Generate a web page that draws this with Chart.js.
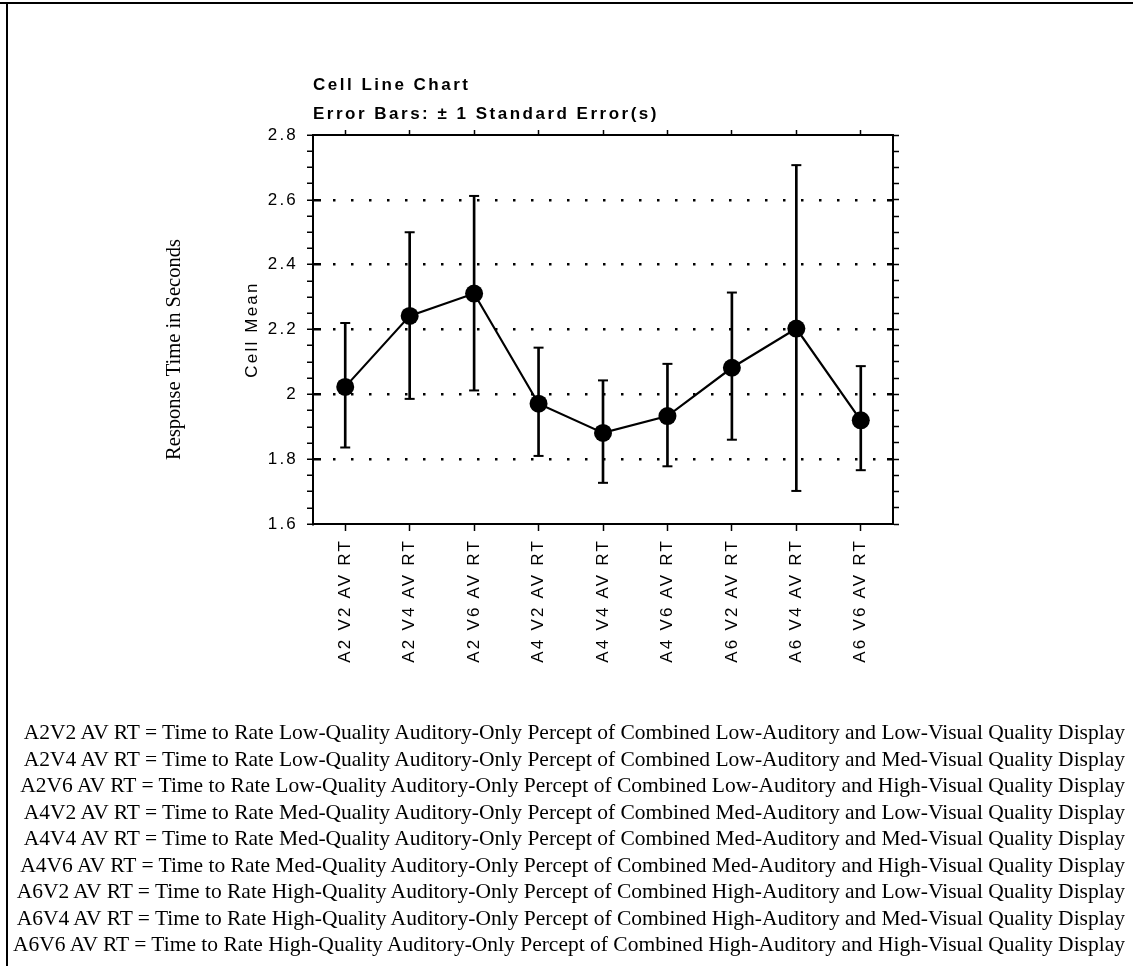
<!DOCTYPE html>
<html>
<head>
<meta charset="utf-8">
<script src="https://cdn.jsdelivr.net/npm/chart.js@4/dist/chart.umd.min.js"></script>
<style>
html,body{margin:0;padding:0;background:#fff;}
body{width:1133px;height:966px;position:relative;overflow:hidden;}
#frameTop{position:absolute;left:0;top:2px;width:1133px;height:2px;background:#000;}
#frameLeft{position:absolute;left:6px;top:2px;width:2px;height:964px;background:#000;}
#c{position:absolute;left:0;top:0;}
#notes{position:absolute;right:8px;top:719px;font-family:"Liberation Serif";font-size:21.5px;line-height:26.5px;text-align:right;color:#000;white-space:nowrap;}
</style>
</head>
<body>
<div id="frameTop"></div>
<div id="frameLeft"></div>
<canvas id="c" width="1133" height="966"></canvas>
<div id="notes"></div>
<script>
// ---- data ----
const categories = ['A2 V2 AV RT','A2 V4 AV RT','A2 V6 AV RT','A4 V2 AV RT','A4 V4 AV RT','A4 V6 AV RT','A6 V2 AV RT','A6 V4 AV RT','A6 V6 AV RT'];
const cellMeans  = [2.023, 2.242, 2.311, 1.971, 1.881, 1.933, 2.082, 2.203, 1.920];
const errorHigh  = [2.220, 2.500, 2.612, 2.144, 2.043, 2.094, 2.314, 2.707, 2.087];
const errorLow   = [1.836, 1.986, 2.012, 1.810, 1.727, 1.778, 1.860, 1.702, 1.766];
const yMin = 1.6, yMax = 2.8, yMinorStep = 0.05;
const yMajorTicks = [1.6, 1.8, 2.0, 2.2, 2.4, 2.6, 2.8];
const yTickLabels = ['1.6', '1.8', '2', '2.2', '2.4', '2.6', '2.8'];
const titleLines = ['Cell Line Chart', 'Error Bars: \u00B1 1 Standard Error(s)'];
const yAxisTitle = 'Cell Mean';
const outerAxisTitle = 'Response Time in Seconds';
const notes = [
  'A2V2 AV RT = Time to Rate Low-Quality Auditory-Only Percept of Combined Low-Auditory and Low-Visual Quality Display',
  'A2V4 AV RT = Time to Rate Low-Quality Auditory-Only Percept of Combined Low-Auditory and Med-Visual Quality Display',
  'A2V6 AV RT = Time to Rate Low-Quality Auditory-Only Percept of Combined Low-Auditory and High-Visual Quality Display',
  'A4V2 AV RT = Time to Rate Med-Quality Auditory-Only Percept of Combined Med-Auditory and Low-Visual Quality Display',
  'A4V4 AV RT = Time to Rate Med-Quality Auditory-Only Percept of Combined Med-Auditory and Med-Visual Quality Display',
  'A4V6 AV RT = Time to Rate Med-Quality Auditory-Only Percept of Combined Med-Auditory and High-Visual Quality Display',
  'A6V2 AV RT = Time to Rate High-Quality Auditory-Only Percept of Combined High-Auditory and Low-Visual Quality Display',
  'A6V4 AV RT = Time to Rate High-Quality Auditory-Only Percept of Combined High-Auditory and Med-Visual Quality Display',
  'A6V6 AV RT = Time to Rate High-Quality Auditory-Only Percept of Combined High-Auditory and High-Visual Quality Display'
];

// ---- footnote text ----
const notesEl = document.getElementById('notes');
notes.forEach(t => { const d = document.createElement('div'); d.textContent = t; notesEl.appendChild(d); });

// ---- helpers ----
const majorIndex = v => yMajorTicks.findIndex(m => Math.abs(m - v) < 1e-6);
const isInnerMajor = v => { const i = majorIndex(v); return i > 0 && i < yMajorTicks.length - 1; };
const SANS = 'Liberation Sans';
const SPACING = '2.2px';

function gridDash(ctx) {
  const a = ctx.chart.chartArea;
  if (!a) return [2.5, 15.5];
  const L = a.right - a.left;
  const arr = [7, 12];
  let pos = 19;
  while (pos + 18 < L - 12) { arr.push(2.5, 15.5); pos += 18; }
  arr.push(2.5, Math.max(1, L - 7 - pos - 2.5), 8, 2000);
  return arr;
}

const textPlugin = {
  id: 'texts',
  beforeDraw(chart) { chart.ctx.letterSpacing = SPACING; },
  afterDraw(chart) {
    const ctx = chart.ctx, a = chart.chartArea;
    ctx.save();
    ctx.fillStyle = '#000';
    ctx.letterSpacing = '2.5px';
    ctx.font = 'bold 17px "' + SANS + '"';
    ctx.textBaseline = 'middle';
    ctx.textAlign = 'left';
    ctx.fillText(titleLines[0], a.left, a.top - 50);
    ctx.fillText(titleLines[1], a.left, a.top - 21);
    ctx.letterSpacing = '0px';
    ctx.font = '20.5px "Liberation Serif"';
    ctx.translate(175, (a.top + a.bottom) / 2 + 20);
    ctx.rotate(-Math.PI / 2);
    ctx.textAlign = 'center';
    ctx.fillText(outerAxisTitle, 0, 0);
    ctx.restore();
    ctx.letterSpacing = '0px';
  }
};

new Chart(document.getElementById('c'), {
  type: 'line',
  data: {
    labels: categories,
    datasets: [
      { type: 'line', label: 'Cell Mean', data: cellMeans, borderColor: '#000', borderWidth: 2.2,
        pointRadius: 9, pointBackgroundColor: '#000', pointBorderColor: '#000', pointBorderWidth: 0,
        tension: 0, order: 0, xAxisID: 'x', yAxisID: 'y' },
      { type: 'bar', label: 'Std Error', data: errorLow.map((l, i) => [l, errorHigh[i]]),
        backgroundColor: '#000', borderWidth: 0, barThickness: 2, order: 2, xAxisID: 'x', yAxisID: 'y' },
      { type: 'line', label: 'SE high', data: errorHigh, showLine: false, pointStyle: 'line',
        pointRadius: 5, pointBorderColor: '#000', pointBorderWidth: 2, order: 1, xAxisID: 'x', yAxisID: 'y' },
      { type: 'line', label: 'SE low', data: errorLow, showLine: false, pointStyle: 'line',
        pointRadius: 5, pointBorderColor: '#000', pointBorderWidth: 2, order: 1, xAxisID: 'x', yAxisID: 'y' }
    ]
  },
  options: {
    responsive: false,
    devicePixelRatio: 1,
    animation: false,
    layout: { padding: { left: 238, right: 230, top: 125, bottom: 282 } },
    plugins: { legend: { display: false }, tooltip: { enabled: false }, title: { display: false } },
    scales: {
      x: {
        type: 'category', position: 'bottom', offset: true,
        grid: { offset: false, display: true, drawOnChartArea: false, drawTicks: true, tickLength: 7, tickColor: '#000', tickWidth: 1.5 },
        border: { display: true, color: '#000', width: 2 },
        ticks: { autoSkip: false, minRotation: 90, maxRotation: 90, padding: 8, color: '#000', font: { family: SANS, size: 17 } },
        afterFit(s) { s.height = 160; }
      },
      x2: {
        type: 'category', position: 'top', offset: true, labels: categories,
        grid: { offset: false, display: true, drawOnChartArea: false, drawTicks: true, tickLength: 5, tickColor: '#000', tickWidth: 1.5 },
        border: { display: true, color: '#000', width: 2 },
        ticks: { display: false },
        afterFit(s) { s.height = 10; }
      },
      y: {
        type: 'linear', position: 'left', min: yMin, max: yMax,
        ticks: { stepSize: yMinorStep, autoSkip: false, padding: 9, color: '#000', font: { family: SANS, size: 17 },
          callback: v => { const i = majorIndex(v); return i < 0 ? '' : yTickLabels[i]; } },
        grid: { display: true, drawOnChartArea: true, color: c => (c.tick && isInnerMajor(c.tick.value)) ? '#000' : 'rgba(0,0,0,0)',
          lineWidth: 2.5, drawTicks: true, tickLength: 6, tickColor: '#000', tickWidth: 1.5 },
        border: { display: true, color: '#000', width: 2, dash: gridDash },
        title: { display: true, text: yAxisTitle, color: '#000', font: { family: SANS, size: 17 }, padding: { top: 4, bottom: 4 } },
        afterFit(s) { s.width = 75; }
      },
      y2: {
        type: 'linear', position: 'right', min: yMin, max: yMax,
        ticks: { display: false, stepSize: yMinorStep, autoSkip: false },
        grid: { display: true, drawOnChartArea: false, drawTicks: true, tickLength: 6, tickColor: '#000', tickWidth: 1.5 },
        border: { display: true, color: '#000', width: 2 },
        afterFit(s) { s.width = 10; }
      }
    }
  },
  plugins: [textPlugin]
});
</script>
</body>
</html>
